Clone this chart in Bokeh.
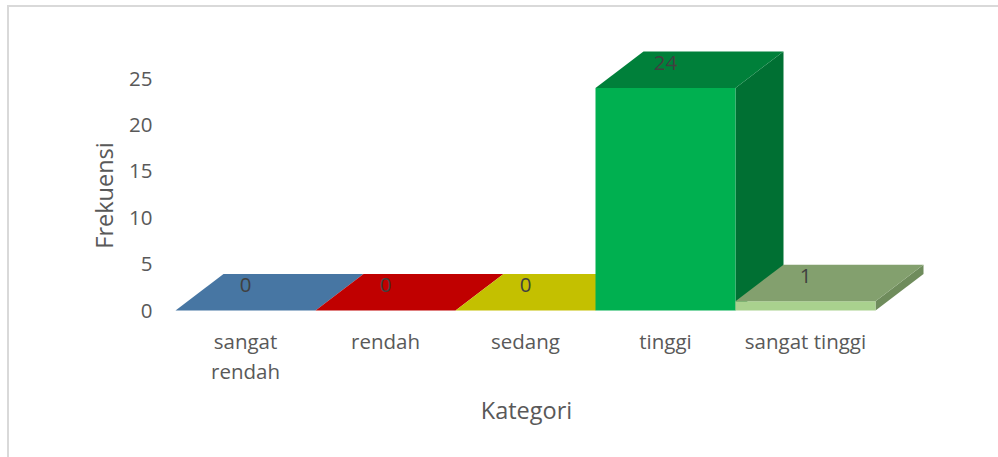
from bokeh.plotting import figure
from bokeh.models import Range1d, FixedTicker
from bokeh.embed import file_html
from bokeh.resources import INLINE

categories = ["sangat\nrendah", "rendah", "sedang", "tinggi", "sangat tinggi"]
values = [0, 0, 0, 24, 1]
y_ticks = [0, 5, 10, 15, 20, 25]

front_colors = ["#4776A3", "#C00000", "#C4C000", "#00B050", "#A9D18E"]
top_colors = ["#4776A3", "#C00000", "#C4C000", "#00803A", "#83A06E"]
side_colors = ["#3A6085", "#9C0000", "#A09C00", "#007033", "#6F8C5C"]

FONT = "Open Sans"
TXT = "#595959"
PX_X, PX_Y = 140.0, 9.27
DX, DY = 48 / PX_X, 36.5 / PX_Y
W, H = 998, 457
F_L, F_R, F_T, F_B = 127, 925, 50, 340
BASE = 310
G = "linear-gradient(#D9D9D9,#D9D9D9)"

p = figure(width=W, height=H, output_backend="svg", toolbar_location=None,
           x_range=Range1d(-48 / PX_X, (F_R - F_L - 48) / PX_X),
           y_range=Range1d((BASE - F_B) / PX_Y, (BASE - F_T) / PX_Y),
           min_border_left=F_L, min_border_right=W - F_R, min_border_top=F_T,
           min_border_bottom=H - F_B, margin=0,
           border_fill_color=None, background_fill_color=None,
           styles={"position": "absolute", "left": "0px", "top": "0px",
                   "background-image": f"{G},{G}",
                   "background-size": "991px 2px, 2px 452px",
                   "background-position": "7px 5px, 7px 5px",
                   "background-repeat": "no-repeat"})
p.outline_line_color = None
p.grid.visible = False

for axis in (p.xaxis[0], p.yaxis[0]):
    axis.axis_line_color = None
    axis.major_tick_line_color = None
    axis.minor_tick_line_color = None
    axis.major_label_text_font = FONT
    axis.major_label_text_font_size = "20.5px"
    axis.major_label_text_color = TXT
    axis.axis_label_text_font = FONT
    axis.axis_label_text_font_size = "23.5px"
    axis.axis_label_text_font_style = "normal"
    axis.axis_label_text_color = TXT

p.yaxis[0].ticker = FixedTicker(ticks=y_ticks)
p.yaxis[0].major_label_standoff = -31
p.yaxis[0].axis_label = "Frekuensi"
p.yaxis[0].axis_label_standoff = 6

positions = [i + 0.5 for i in range(len(categories))]
p.xaxis[0].ticker = FixedTicker(ticks=positions)
p.xaxis[0].major_label_overrides = dict(zip(positions, categories))
p.xaxis[0].major_label_standoff = -20
p.xaxis[0].major_label_text_line_height = 1.1
p.xaxis[0].axis_label = "Kategori"
p.xaxis[0].axis_label_standoff = 6

for i, v in enumerate(values):
    l, r = i, i + 1
    if v > 0:
        p.patch([r, r + DX, r + DX, r], [0, DY, v + DY, v],
                fill_color=side_colors[i], line_color=None)
        p.quad(left=l, right=r, bottom=0, top=v,
               fill_color=front_colors[i], line_color=None)
    p.patch([l, r, r + DX, l + DX], [v, v, v + DY, v + DY],
            fill_color=top_colors[i], line_color=None)

p.text(x=[i + 0.5 for i in range(len(values))], y=[v + 2.7 for v in values],
       text=[str(v) for v in values], text_align="center", text_baseline="middle",
       text_font={"value": FONT}, text_font_size={"value": "20.5px"}, text_color="#404040")

open("out.html", "w").write(file_html(p, INLINE))
